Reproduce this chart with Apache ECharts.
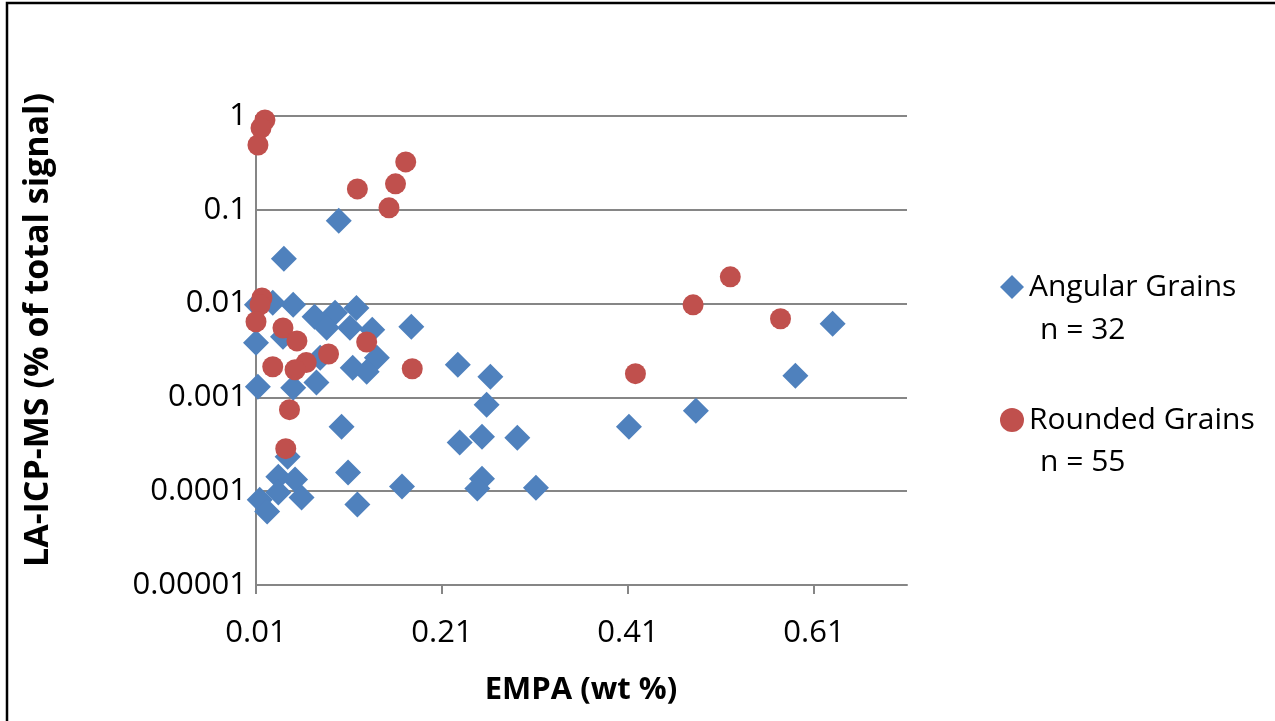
<!DOCTYPE html>
<html>
<head>
<meta charset="utf-8">
<script src="https://cdn.jsdelivr.net/npm/echarts@6/dist/echarts.min.js"></script>
<style>
  html, body { margin: 0; padding: 0; background: #fff; }
  #chart { width: 1275px; height: 721px; }
</style>
</head>
<body>
<div id="chart"></div>
<script>
// Angular grains: EMPA (wt %) vs LA-ICP-MS (% of total signal)
const angularX = [0.099, 0.040, 0.011, 0.028, 0.050, 0.073, 0.095, 0.118, 0.086, 0.111,
                  0.135, 0.177, 0.010, 0.039, 0.140, 0.114, 0.129, 0.079, 0.012, 0.050,
                  0.075, 0.227, 0.262, 0.258, 0.102, 0.229, 0.253, 0.291, 0.411, 0.483,
                  0.590, 0.630, 0.044, 0.034, 0.052, 0.014, 0.034, 0.059, 0.022, 0.109,
                  0.167, 0.119, 0.253, 0.248, 0.311];
const angularY = [0.0762, 0.030, 0.0097, 0.0102, 0.0097, 0.00723, 0.00798, 0.0090, 0.00552, 0.00552,
                  0.00526, 0.00566, 0.00382, 0.00443, 0.00265, 0.00207, 0.00188, 0.00265, 0.0013, 0.00127,
                  0.00144, 0.00223, 0.00166, 0.000836, 0.000488, 0.00033, 0.000381, 0.000372, 0.000488, 0.000721,
                  0.0017, 0.0061, 0.000233, 0.000143, 0.000133, 0.0000813, 0.0000966, 0.0000855, 0.0000607, 0.000158,
                  0.000112, 0.000072, 0.000136, 0.000107, 0.000109];

// Rounded grains
const roundedX = [0.0196, 0.0154, 0.0121, 0.171, 0.119, 0.160, 0.153, 0.0164, 0.0143, 0.010,
                  0.039, 0.054, 0.129, 0.088, 0.064, 0.028, 0.052, 0.178, 0.046, 0.042,
                  0.520, 0.480, 0.574, 0.418];
const roundedY = [0.906, 0.745, 0.491, 0.324, 0.167, 0.189, 0.105, 0.0115, 0.0097, 0.0064,
                  0.0055, 0.0040, 0.0039, 0.0029, 0.00235, 0.00212, 0.00197, 0.00202, 0.00074, 0.000284,
                  0.0193, 0.0097, 0.0069, 0.00179];

const seriesNames = ['Angular Grains', 'Rounded Grains'];
const seriesCounts = ['n = 32', 'n = 55'];

const xTicks = [0.01, 0.21, 0.41, 0.61];
const yTicks = [0.00001, 0.0001, 0.001, 0.01, 0.1, 1];
const yTickLabels = ['0.00001', '0.0001', '0.001', '0.01', '0.1', '1'];

const FONT = '"Open Sans", sans-serif';
const GRID_COLOR = '#868686';

const pairs = (xs, ys) => xs.map((x, i) => [x, ys[i]]);

function yLabel(v) {
  let best = 0, bestD = Infinity;
  yTicks.forEach((t, i) => {
    const d = Math.abs(Math.log10(v) - Math.log10(t));
    if (d < bestD) { bestD = d; best = i; }
  });
  return yTickLabels[best];
}

const chart = echarts.init(document.getElementById('chart'), null, { renderer: 'canvas' });

chart.setOption({
  backgroundColor: '#ffffff',
  animation: false,
  textStyle: { fontFamily: FONT },
  grid: { left: 256, top: 116, width: 651, height: 469, containLabel: false },
  xAxis: {
    type: 'value',
    min: 0.01,
    max: 0.71,
    axisLine: { show: true, onZero: false, lineStyle: { color: GRID_COLOR, width: 2 } },
    axisTick: { show: true, length: 9, customValues: xTicks, lineStyle: { color: GRID_COLOR, width: 2 } },
    axisLabel: {
      customValues: xTicks,
      formatter: v => v.toFixed(2),
      fontSize: 31, color: '#000', fontFamily: FONT, margin: 33
    },
    splitLine: { show: false }
  },
  yAxis: {
    type: 'log',
    logBase: 10,
    min: 0.00001,
    max: 1,
    axisLine: { show: true, lineStyle: { color: GRID_COLOR, width: 2 } },
    axisTick: { show: false },
    axisLabel: { formatter: yLabel, fontSize: 31, color: '#000', fontFamily: FONT, margin: 9 },
    splitLine: { show: true, lineStyle: { color: GRID_COLOR, width: 2 } }
  },
  legend: {
    orient: 'vertical',
    left: 995,
    top: 267,
    itemWidth: 24,
    itemHeight: 24,
    itemGap: 103,
    data: seriesNames,
    textStyle: { fontSize: 30, color: '#000', fontFamily: FONT, lineHeight: 30 }
  },
  series: [
    {
      name: seriesNames[0],
      type: 'scatter',
      symbol: 'diamond',
      symbolSize: 26,
      itemStyle: { color: '#4F81BD', opacity: 1 },
      data: pairs(angularX, angularY),
      z: 2
    },
    {
      name: seriesNames[1],
      type: 'scatter',
      symbol: 'circle',
      symbolSize: 21,
      itemStyle: { color: '#C0504D', opacity: 1 },
      data: pairs(roundedX, roundedY),
      z: 3
    }
  ],
  graphic: [
    {
      type: 'rect',
      shape: { x: 7, y: 3, width: 1400, height: 900 },
      style: { fill: 'none', stroke: '#000', lineWidth: 2.5 },
      silent: true
    },
    {
      type: 'text',
      x: 38, y: 330,
      rotation: Math.PI / 2,
      style: {
        text: 'LA-ICP-MS (% of total signal)',
        font: 'bold 34px ' + FONT,
        fill: '#000',
        textAlign: 'center',
        textVerticalAlign: 'middle'
      }
    },
    {
      type: 'text',
      x: 581, y: 690,
      style: {
        text: 'EMPA (wt %)',
        font: 'bold 31px ' + FONT,
        fill: '#000',
        textAlign: 'center',
        textVerticalAlign: 'middle'
      }
    },
    {
      type: 'text',
      x: 1040, y: 330,
      style: { text: seriesCounts[0], font: '30px ' + FONT, fill: '#000', textVerticalAlign: 'middle' }
    },
    {
      type: 'text',
      x: 1040, y: 462,
      style: { text: seriesCounts[1], font: '30px ' + FONT, fill: '#000', textVerticalAlign: 'middle' }
    }
  ]
});
</script>
</body>
</html>
